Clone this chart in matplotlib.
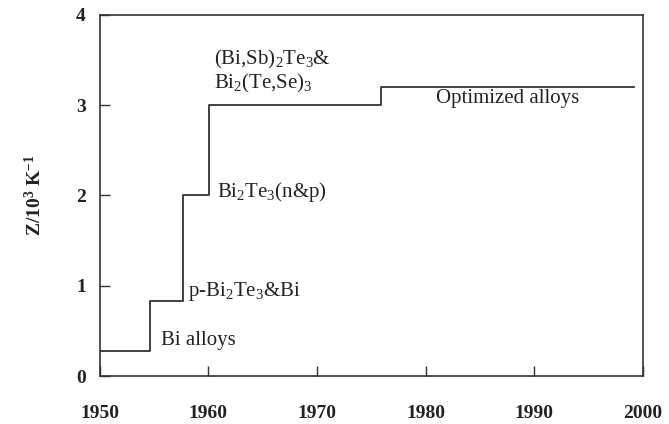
import matplotlib
matplotlib.use("Agg")
import matplotlib.pyplot as plt

# step history of Z (x 10^3 K^-1) for Bi-Te based materials
years = [1950, 1954.6, 1957.7, 1960.1, 1975.9, 1999.2]
z_values = [0.28, 0.83, 2.0, 3.0, 3.2, 3.2]

labels = [r"Bi alloys", r"p-Bi$_2$Te$_3$&Bi", r"Bi$_2$Te$_3$(n&p)",
          "(Bi,Sb)$_2$Te$_3$&\nBi$_2$(Te,Se)$_3$", r"Optimized alloys"]
label_x = [1955.6, 1958.1, 1960.8, 1960.5, 1981.0]
label_y = [0.39, 0.94, 2.04, 3.37, 3.07]

xticks = [1950, 1960, 1970, 1980, 1990, 2000]
yticks = [0, 1, 2, 3, 4]

plt.rcParams["font.family"] = "Liberation Serif"
plt.rcParams["mathtext.fontset"] = "custom"
plt.rcParams["mathtext.rm"] = "Liberation Serif"
plt.rcParams["mathtext.bf"] = "Liberation Serif:bold"
plt.rcParams["mathtext.default"] = "regular"

fig = plt.figure(figsize=(6.69, 4.24), dpi=100)
ax = fig.add_axes([0.149, 0.113, 0.812, 0.852])

ax.step(years, z_values, where="post", color="#333333", lw=1.3)

for txt, x, y in zip(labels, label_x, label_y):
    ax.text(x, y, txt, fontsize=15, color="#222222", va="center", ha="left",
            linespacing=1.05)

ax.set_xlim(1950, 2000)
ax.set_ylim(0, 4)
ax.set_xticks(xticks)
ax.set_yticks(yticks)
ax.tick_params(direction="in", length=7, width=1, colors="#333333",
               labelcolor="#222222", labelsize=14)
ax.tick_params(axis="x", pad=21)
ax.tick_params(axis="y", pad=10)
for lab in ax.get_xticklabels() + ax.get_yticklabels():
    lab.set_fontweight("bold")
for s in ax.spines.values():
    s.set_linewidth(1.2)
    s.set_color("#333333")

ax.set_ylabel(r"Z/10$^3$ K$^{-1}$", fontsize=14, fontweight="bold",
              color="#222222", labelpad=22)

fig.savefig("out.png", dpi=100)
